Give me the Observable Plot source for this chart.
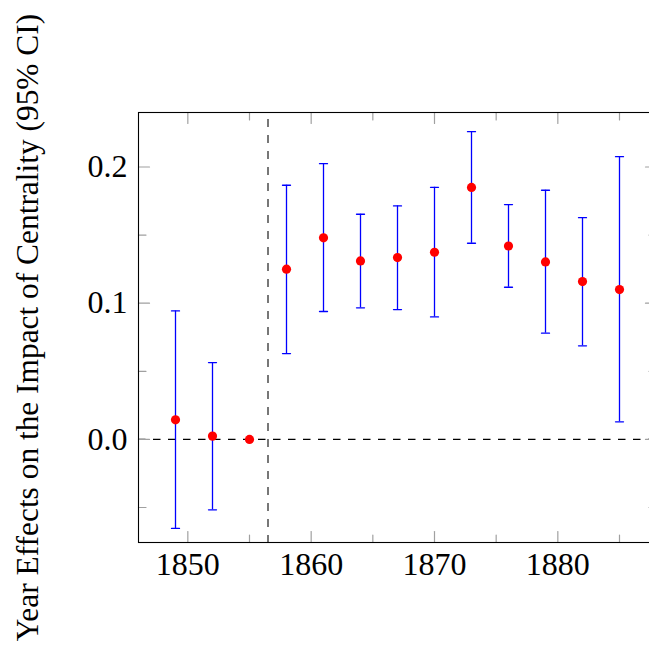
<!DOCTYPE html>
<html>
<head>
<meta charset="utf-8">
<script src="https://cdn.jsdelivr.net/npm/d3@7"></script>
<script src="https://cdn.jsdelivr.net/npm/@observablehq/plot@0.6"></script>
<style>
  html, body { margin: 0; padding: 0; background: white; overflow: hidden; }
  #chart svg [aria-label="y-axis label"] text { font-size: 31.4px; }
</style>
</head>
<body>
<div id="chart"></div>
<script>
// Data
const years     = [1849, 1852, 1855, 1858, 1861, 1864, 1867, 1870, 1873, 1876, 1879, 1882, 1885];
const estimates = [0.0144, 0.0024, 0.0, 0.125, 0.148, 0.131, 0.1335, 0.1374, 0.185, 0.142, 0.1303, 0.1159, 0.110];
const lower     = [-0.0654, -0.0517, null, 0.063, 0.0939, 0.0966, 0.0953, 0.0899, 0.144, 0.1117, 0.078, 0.0687, 0.0129];
const upper     = [0.0943, 0.0564, null, 0.1866, 0.2024, 0.1653, 0.1714, 0.1851, 0.2259, 0.1724, 0.1829, 0.1628, 0.2076];
const breakYear = [1856.5];
const baseline  = [0];

const xMajor = [1850, 1860, 1870, 1880];
const xMinor = [1855, 1865, 1875, 1885];
const yMajor = [0, 0.1, 0.2];
const yMinor = [-0.05, 0.05, 0.15];

const yLabel = "Year Effects on the Impact of Centrality (95% CI)";

const rows = years.map((y, i) => ({year: y, est: estimates[i], lo: lower[i], hi: upper[i]}));
const bars = rows.filter(d => d.lo != null);

const lineShape = {draw(context, l) { context.moveTo(0, 0); context.lineTo(0, -l); }};
const tickGray = "#a0a0a0";
const font = "'Liberation Serif', 'Times New Roman', serif";

function ticks(values, len, axis) {
  const opts = {shape: lineShape, anchor: "start", length: len, stroke: tickGray, strokeWidth: 1.2};
  if (axis === "x") return [
    Plot.vector(values, {...opts, x: d => d, frameAnchor: "bottom", rotate: 0}),
    Plot.vector(values, {...opts, x: d => d, frameAnchor: "top", rotate: 180})
  ];
  return [
    Plot.vector(values, {...opts, y: d => d, frameAnchor: "left", rotate: 90}),
    Plot.vector(values, {...opts, y: d => d, frameAnchor: "right", rotate: 270})
  ];
}

const capOpts = {shape: lineShape, anchor: "middle", length: 8, rotate: 90, stroke: "#0000ff", strokeWidth: 1.3};

const chart = Plot.plot({
  width: 660,
  height: 645,
  marginLeft: 138,
  marginRight: 4,
  marginTop: 112,
  marginBottom: 103,
  style: {fontFamily: font, fontSize: "32px", maxWidth: "none", color: "black", background: "white"},
  x: {domain: [1846, 1888]},
  y: {domain: [-0.0757, 0.24]},
  marks: [
    Plot.ruleY(baseline, {stroke: "black", strokeWidth: 1.2, strokeDasharray: "7.5,7.5"}),
    Plot.ruleX(breakYear, {stroke: "#777777", strokeWidth: 2, strokeDasharray: "8,8", strokeDashoffset: -7}),
    Plot.ruleX(bars, {x: "year", y1: "lo", y2: "hi", stroke: "#0000ff", strokeWidth: 1.3}),
    Plot.vector(bars, {...capOpts, x: "year", y: "lo"}),
    Plot.vector(bars, {...capOpts, x: "year", y: "hi"}),
    Plot.dot(rows, {x: "year", y: "est", r: 4.6, fill: "#ff0000", stroke: null}),
    ...ticks(xMajor, 11, "x"),
    ...ticks(xMinor, 7.5, "x"),
    ...ticks(yMajor, 11, "y"),
    ...ticks(yMinor, 7.5, "y"),
    Plot.frame({stroke: "black", strokeWidth: 1.1}),
    Plot.axisX({ticks: xMajor, tickSize: 0, tickPadding: 10, tickFormat: d => String(d), fontSize: 32, label: null}),
    Plot.axisY({ticks: yMajor, tickSize: 0, tickPadding: 11, tickFormat: d => d.toFixed(1), fontSize: 32,
      label: yLabel, labelAnchor: "center", labelArrow: "none", labelOffset: 123})
  ]
});
document.getElementById("chart").appendChild(chart);
</script>
</body>
</html>
